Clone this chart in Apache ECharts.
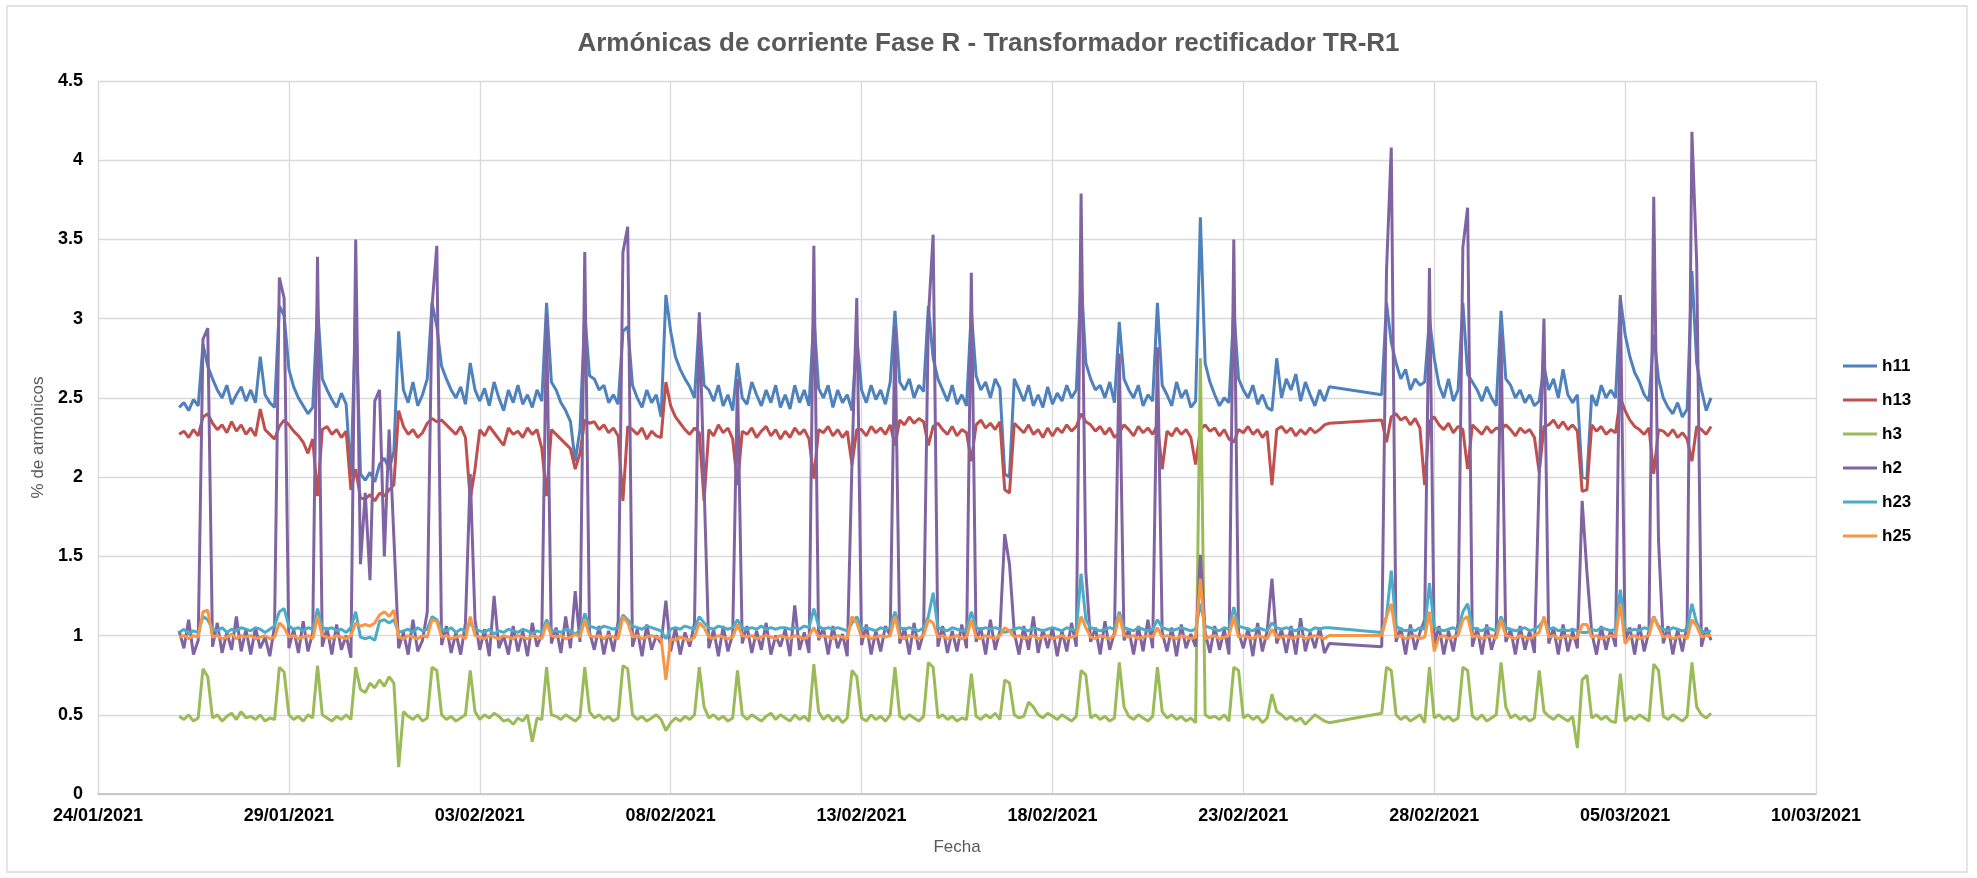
<!DOCTYPE html>
<html>
<head>
<meta charset="utf-8">
<title>Armónicas de corriente Fase R - TR-R1</title>
<script src="https://cdn.jsdelivr.net/npm/echarts/dist/echarts.min.js"></script>
<style>
  html, body { margin: 0; padding: 0; background: #fff; }
  #chart { width: 1977px; height: 878px; }
</style>
</head>
<body>
<div id="chart"></div>
<script>
// readings every 3 h (00,03,...,21), one row per day, null = no reading
const days = [
  '2021-01-26', '2021-01-27', '2021-01-28', '2021-01-29', '2021-01-30', '2021-01-31',
  '2021-02-01', '2021-02-02', '2021-02-03', '2021-02-04', '2021-02-05', '2021-02-06',
  '2021-02-07', '2021-02-08', '2021-02-09', '2021-02-10', '2021-02-11', '2021-02-12',
  '2021-02-13', '2021-02-14', '2021-02-15', '2021-02-16', '2021-02-17', '2021-02-18',
  '2021-02-19', '2021-02-20', '2021-02-21', '2021-02-22', '2021-02-23', '2021-02-24',
  '2021-02-25', '2021-02-26', '2021-02-27', '2021-02-28', '2021-03-01', '2021-03-02',
  '2021-03-03', '2021-03-04', '2021-03-05', '2021-03-06', '2021-03-07'
];
const hours = [0, 3, 6, 9, 12, 15, 18, 21];

const h11 = [
  [null, 2.44, 2.47, 2.42, 2.49, 2.45, 2.84, 2.70],
  [2.62, 2.55, 2.50, 2.58, 2.46, 2.52, 2.57, 2.48],
  [2.55, 2.47, 2.76, 2.52, 2.47, 2.44, 3.08, 3.02],
  [2.68, 2.57, 2.50, 2.45, 2.40, 2.44, 3.08, 2.62],
  [2.55, 2.49, 2.44, 2.53, 2.46, 2.00, 3.05, 2.02],
  [1.98, 2.03, 1.97, 2.08, 2.12, 2.05, 2.16, 2.92],
  [2.55, 2.47, 2.60, 2.45, 2.52, 2.62, 3.10, 2.95],
  [2.70, 2.62, 2.55, 2.50, 2.57, 2.46, 2.72, 2.55],
  [2.48, 2.56, 2.45, 2.60, 2.50, 2.42, 2.55, 2.47],
  [2.58, 2.46, 2.52, 2.44, 2.55, 2.48, 3.10, 2.60],
  [2.55, 2.47, 2.42, 2.35, 2.10, 2.30, 3.03, 2.64],
  [2.62, 2.55, 2.58, 2.47, 2.52, 2.46, 2.92, 2.95],
  [2.58, 2.50, 2.44, 2.55, 2.47, 2.52, 2.38, 3.15],
  [2.92, 2.76, 2.68, 2.62, 2.57, 2.50, 3.00, 2.58],
  [2.55, 2.48, 2.58, 2.45, 2.52, 2.42, 2.72, 2.50],
  [2.46, 2.60, 2.52, 2.45, 2.55, 2.47, 2.58, 2.44],
  [2.52, 2.43, 2.58, 2.47, 2.55, 2.45, 3.02, 2.56],
  [2.50, 2.58, 2.44, 2.55, 2.47, 2.52, 2.42, 2.89],
  [2.55, 2.47, 2.58, 2.49, 2.55, 2.46, 2.60, 3.05],
  [2.60, 2.55, 2.62, 2.50, 2.58, 2.54, 3.08, 2.75],
  [2.62, 2.55, 2.48, 2.58, 2.46, 2.52, 2.45, 3.05],
  [2.64, 2.55, 2.60, 2.50, 2.62, 2.56, 2.02, 2.00],
  [2.62, 2.55, 2.48, 2.58, 2.45, 2.52, 2.44, 2.57],
  [2.46, 2.53, 2.48, 2.58, 2.50, 2.55, 3.26, 2.72],
  [2.62, 2.55, 2.58, 2.50, 2.60, 2.47, 2.98, 2.62],
  [2.55, 2.50, 2.58, 2.45, 2.52, 2.48, 3.10, 2.58],
  [2.52, 2.45, 2.60, 2.50, 2.55, 2.44, 2.48, 3.64],
  [2.72, 2.60, 2.52, 2.45, 2.50, 2.47, 3.06, 2.62],
  [2.55, 2.50, 2.58, 2.46, 2.52, 2.44, 2.42, 2.75],
  [2.50, 2.62, 2.55, 2.65, 2.48, 2.60, 2.52, 2.45],
  [2.55, 2.48, 2.57, null, null, null, null, null],
  [null, null, null, null, null, 2.52, 3.10, 2.85],
  [2.72, 2.62, 2.68, 2.55, 2.62, 2.58, 2.60, 3.00],
  [2.75, 2.58, 2.50, 2.62, 2.48, 2.55, 3.10, 2.65],
  [2.60, 2.55, 2.48, 2.57, 2.50, 2.45, 3.05, 2.62],
  [2.58, 2.50, 2.55, 2.47, 2.52, 2.45, 2.48, 2.70],
  [2.55, 2.62, 2.50, 2.68, 2.52, 2.47, 2.52, 2.00],
  [1.99, 2.52, 2.45, 2.58, 2.50, 2.55, 2.50, 3.13],
  [2.90, 2.76, 2.66, 2.60, 2.52, 2.48, 2.90, 2.62],
  [2.50, 2.44, 2.40, 2.47, 2.38, 2.43, 3.30, 2.72],
  [2.55, 2.42, 2.50, null, null, null, null, null]
];

const h13 = [
  [null, 2.27, 2.29, 2.25, 2.30, 2.26, 2.38, 2.40],
  [2.34, 2.30, 2.33, 2.28, 2.35, 2.29, 2.33, 2.27],
  [2.31, 2.26, 2.43, 2.30, 2.27, 2.24, 2.32, 2.36],
  [2.33, 2.29, 2.26, 2.22, 2.15, 2.24, 1.88, 2.30],
  [2.32, 2.27, 2.30, 2.25, 2.29, 1.92, 2.05, 1.87],
  [1.86, 1.89, 1.85, 1.90, 1.88, 1.92, 1.95, 2.42],
  [2.32, 2.27, 2.30, 2.25, 2.28, 2.34, 2.37, 2.35],
  [2.36, 2.33, 2.30, 2.27, 2.32, 2.25, 1.86, 2.05],
  [2.30, 2.26, 2.32, 2.28, 2.24, 2.20, 2.31, 2.27],
  [2.29, 2.25, 2.31, 2.27, 2.30, 2.18, 1.88, 2.30],
  [2.27, 2.24, 2.21, 2.18, 2.05, 2.15, 2.36, 2.34],
  [2.35, 2.30, 2.33, 2.28, 2.31, 2.26, 1.85, 2.32],
  [2.30, 2.27, 2.31, 2.24, 2.29, 2.26, 2.25, 2.60],
  [2.45, 2.38, 2.34, 2.30, 2.27, 2.31, 2.28, 1.85],
  [2.30, 2.26, 2.33, 2.28, 2.31, 2.24, 1.95, 2.29],
  [2.27, 2.31, 2.25, 2.29, 2.32, 2.26, 2.30, 2.24],
  [2.29, 2.25, 2.31, 2.27, 2.30, 2.24, 1.99, 2.30],
  [2.28, 2.32, 2.26, 2.30, 2.25, 2.29, 2.08, 2.30],
  [2.30, 2.26, 2.32, 2.28, 2.31, 2.27, 2.33, 2.20],
  [2.36, 2.33, 2.38, 2.34, 2.37, 2.35, 2.20, 2.32],
  [2.34, 2.30, 2.27, 2.32, 2.26, 2.30, 2.28, 2.10],
  [2.33, 2.36, 2.31, 2.34, 2.30, 2.35, 1.92, 1.90],
  [2.34, 2.31, 2.28, 2.33, 2.27, 2.30, 2.25, 2.31],
  [2.26, 2.31, 2.28, 2.33, 2.29, 2.32, 2.40, 2.35],
  [2.33, 2.29, 2.32, 2.27, 2.31, 2.25, 2.28, 2.33],
  [2.30, 2.26, 2.32, 2.28, 2.31, 2.27, 2.33, 2.05],
  [2.29, 2.26, 2.31, 2.27, 2.30, 2.25, 2.08, 2.30],
  [2.33, 2.29, 2.31, 2.26, 2.30, 2.24, 2.22, 2.30],
  [2.28, 2.32, 2.27, 2.30, 2.25, 2.29, 1.95, 2.30],
  [2.32, 2.28, 2.31, 2.26, 2.30, 2.27, 2.31, 2.28],
  [2.30, 2.33, 2.34, null, null, null, null, null],
  [null, null, null, null, null, 2.36, 2.22, 2.38],
  [2.40, 2.36, 2.38, 2.33, 2.37, 2.31, 1.95, 2.35],
  [2.38, 2.33, 2.30, 2.34, 2.28, 2.32, 2.30, 2.05],
  [2.33, 2.30, 2.27, 2.32, 2.28, 2.31, 2.30, 2.33],
  [2.30, 2.26, 2.31, 2.28, 2.30, 2.25, 2.03, 2.32],
  [2.33, 2.36, 2.31, 2.35, 2.30, 2.33, 2.29, 1.91],
  [1.92, 2.33, 2.29, 2.32, 2.27, 2.30, 2.28, 2.50],
  [2.42, 2.36, 2.32, 2.30, 2.27, 2.31, 2.02, 2.30],
  [2.29, 2.26, 2.30, 2.25, 2.28, 2.24, 2.10, 2.32],
  [2.30, 2.27, 2.32, null, null, null, null, null]
];

const h3 = [
  [null, 0.49, 0.47, 0.50, 0.46, 0.48, 0.79, 0.74],
  [0.48, 0.50, 0.46, 0.49, 0.51, 0.47, 0.52, 0.48],
  [0.49, 0.47, 0.50, 0.46, 0.48, 0.47, 0.80, 0.77],
  [0.50, 0.47, 0.49, 0.46, 0.50, 0.48, 0.81, 0.50],
  [0.48, 0.46, 0.49, 0.47, 0.50, 0.47, 0.80, 0.66],
  [0.64, 0.70, 0.67, 0.72, 0.68, 0.74, 0.70, 0.17],
  [0.52, 0.49, 0.47, 0.50, 0.46, 0.48, 0.80, 0.78],
  [0.50, 0.47, 0.49, 0.46, 0.48, 0.50, 0.78, 0.52],
  [0.47, 0.50, 0.48, 0.51, 0.49, 0.46, 0.47, 0.44],
  [0.48, 0.46, 0.50, 0.33, 0.48, 0.47, 0.80, 0.50],
  [0.49, 0.47, 0.50, 0.48, 0.46, 0.49, 0.80, 0.52],
  [0.48, 0.50, 0.47, 0.49, 0.46, 0.48, 0.81, 0.79],
  [0.50, 0.47, 0.49, 0.46, 0.48, 0.50, 0.47, 0.40],
  [0.45, 0.48, 0.46, 0.49, 0.47, 0.50, 0.80, 0.55],
  [0.48, 0.50, 0.47, 0.49, 0.46, 0.48, 0.78, 0.50],
  [0.47, 0.50, 0.48, 0.46, 0.49, 0.51, 0.47, 0.50],
  [0.48, 0.46, 0.50, 0.47, 0.49, 0.46, 0.82, 0.52],
  [0.47, 0.50, 0.46, 0.49, 0.45, 0.48, 0.78, 0.74],
  [0.48, 0.46, 0.50, 0.47, 0.49, 0.46, 0.50, 0.80],
  [0.49, 0.47, 0.50, 0.48, 0.46, 0.49, 0.83, 0.80],
  [0.48, 0.50, 0.47, 0.49, 0.46, 0.48, 0.47, 0.76],
  [0.49, 0.47, 0.50, 0.48, 0.51, 0.47, 0.72, 0.70],
  [0.50, 0.48, 0.49, 0.58, 0.55, 0.50, 0.48, 0.51],
  [0.49, 0.47, 0.50, 0.48, 0.46, 0.49, 0.78, 0.75],
  [0.48, 0.50, 0.47, 0.49, 0.46, 0.48, 0.83, 0.55],
  [0.49, 0.47, 0.50, 0.48, 0.46, 0.49, 0.80, 0.52],
  [0.48, 0.50, 0.47, 0.49, 0.46, 0.48, 0.45, 2.75],
  [0.50, 0.48, 0.49, 0.47, 0.50, 0.46, 0.80, 0.78],
  [0.48, 0.50, 0.47, 0.49, 0.45, 0.48, 0.63, 0.52],
  [0.50, 0.47, 0.49, 0.46, 0.48, 0.44, 0.47, 0.50],
  [0.48, 0.46, 0.45, null, null, null, null, null],
  [null, null, null, null, null, 0.51, 0.80, 0.78],
  [0.50, 0.47, 0.49, 0.46, 0.48, 0.50, 0.45, 0.80],
  [0.48, 0.50, 0.47, 0.49, 0.46, 0.48, 0.80, 0.78],
  [0.49, 0.47, 0.50, 0.46, 0.48, 0.50, 0.83, 0.55],
  [0.48, 0.50, 0.47, 0.49, 0.46, 0.48, 0.78, 0.52],
  [0.49, 0.47, 0.50, 0.48, 0.46, 0.49, 0.29, 0.72],
  [0.75, 0.48, 0.50, 0.47, 0.49, 0.46, 0.45, 0.76],
  [0.46, 0.49, 0.47, 0.50, 0.48, 0.46, 0.82, 0.78],
  [0.49, 0.47, 0.50, 0.48, 0.46, 0.49, 0.83, 0.55],
  [0.50, 0.48, 0.51, null, null, null, null, null]
];

const h2 = [
  [null, 1.03, 0.92, 1.10, 0.88, 0.97, 2.87, 2.94],
  [0.93, 1.08, 0.89, 1.02, 0.91, 1.12, 0.90, 1.04],
  [0.88, 1.05, 0.92, 0.99, 0.87, 1.06, 3.26, 3.13],
  [0.92, 1.04, 0.89, 1.09, 0.90, 1.02, 3.39, 0.93],
  [1.05, 0.88, 1.07, 0.91, 1.00, 0.86, 3.50, 1.45],
  [1.90, 1.35, 2.48, 2.55, 1.50, 2.30, 1.62, 0.92],
  [1.02, 0.88, 1.10, 0.90, 0.97, 1.15, 3.08, 3.46],
  [0.94, 1.06, 0.89, 1.02, 0.88, 1.08, 2.02, 1.10],
  [0.91, 1.04, 0.87, 1.25, 0.92, 1.00, 0.88, 1.06],
  [0.90, 1.03, 0.87, 1.08, 0.93, 1.01, 3.03, 0.95],
  [1.05, 0.89, 1.12, 0.92, 1.28, 0.96, 3.42, 1.02],
  [0.91, 1.06, 0.88, 1.03, 0.90, 1.09, 3.42, 3.58],
  [0.93, 1.04, 0.87, 1.07, 0.91, 1.00, 0.95, 1.22],
  [0.90, 1.05, 0.88, 1.02, 0.93, 1.08, 3.04, 1.95],
  [0.92, 1.04, 0.87, 1.06, 0.90, 1.01, 2.62, 0.95],
  [1.06, 0.89, 1.03, 0.91, 1.08, 0.88, 1.00, 0.93],
  [1.04, 0.87, 1.19, 0.91, 1.02, 0.89, 3.46, 0.97],
  [1.05, 0.88, 1.06, 0.92, 1.01, 0.87, 2.10, 3.13],
  [0.94, 1.07, 0.88, 1.03, 0.90, 1.06, 1.00, 2.95],
  [0.95, 1.05, 0.88, 1.08, 0.91, 1.02, 3.00, 3.53],
  [0.93, 1.06, 0.89, 1.03, 0.90, 1.07, 0.92, 3.29],
  [0.96, 1.05, 0.88, 1.10, 0.91, 1.03, 1.64, 1.45],
  [1.02, 0.88, 1.06, 0.91, 1.12, 0.89, 1.04, 0.92],
  [1.05, 0.87, 1.03, 0.90, 1.08, 0.93, 3.79, 1.40],
  [0.96, 1.05, 0.88, 1.09, 0.91, 1.02, 2.78, 0.97],
  [1.04, 0.88, 1.06, 0.90, 1.10, 0.92, 2.82, 1.02],
  [0.90, 1.05, 0.87, 1.07, 0.92, 1.01, 0.93, 1.51],
  [1.02, 0.89, 1.06, 0.91, 1.04, 0.88, 3.50, 1.02],
  [0.92, 1.05, 0.87, 1.08, 0.90, 1.03, 1.36, 0.95],
  [1.04, 0.89, 1.06, 0.88, 1.11, 0.90, 1.02, 0.92],
  [1.05, 0.89, 0.95, null, null, null, null, null],
  [null, null, null, null, null, 0.93, 3.30, 4.08],
  [0.96, 1.05, 0.88, 1.07, 0.91, 1.02, 1.10, 3.32],
  [0.94, 1.06, 0.88, 1.03, 0.90, 1.08, 3.45, 3.70],
  [0.93, 1.05, 0.88, 1.07, 0.91, 1.02, 2.90, 0.96],
  [1.04, 0.88, 1.06, 0.91, 1.03, 0.89, 2.00, 3.00],
  [0.95, 1.05, 0.88, 1.07, 0.90, 1.03, 0.92, 1.85],
  [1.40, 1.02, 0.88, 1.06, 0.91, 1.04, 0.93, 3.15],
  [0.97, 1.05, 0.88, 1.07, 0.90, 1.03, 3.77, 1.60],
  [0.95, 1.06, 0.88, 1.04, 0.90, 1.07, 4.18, 3.35],
  [0.93, 1.05, 0.97, null, null, null, null, null]
];

const h23 = [
  [null, 1.02, 1.04, 1.01, 1.03, 1.02, 1.12, 1.10],
  [1.04, 1.03, 1.05, 1.02, 1.04, 1.03, 1.05, 1.04],
  [1.03, 1.05, 1.04, 1.02, 1.04, 1.06, 1.15, 1.17],
  [1.06, 1.04, 1.05, 1.03, 1.05, 1.04, 1.17, 1.05],
  [1.04, 1.05, 1.03, 1.04, 1.02, 1.05, 1.15, 0.99],
  [0.98, 0.99, 0.97, 1.09, 1.10, 1.08, 1.10, 1.02],
  [1.03, 1.04, 1.02, 1.05, 1.03, 1.04, 1.12, 1.10],
  [1.04, 1.03, 1.05, 1.02, 1.04, 1.03, 1.08, 1.04],
  [1.03, 1.02, 1.04, 1.01, 1.03, 1.02, 1.04, 1.03],
  [1.02, 1.04, 1.03, 1.01, 1.03, 1.02, 1.10, 1.03],
  [1.03, 1.02, 1.04, 1.03, 1.01, 1.03, 1.14, 1.06],
  [1.05, 1.04, 1.06, 1.05, 1.04, 1.05, 1.13, 1.10],
  [1.06, 1.05, 1.04, 1.06, 1.05, 1.04, 1.03, 0.98],
  [1.04, 1.05, 1.04, 1.06, 1.05, 1.04, 1.12, 1.08],
  [1.05, 1.04, 1.06, 1.05, 1.04, 1.05, 1.10, 1.05],
  [1.04, 1.05, 1.04, 1.06, 1.04, 1.05, 1.04, 1.05],
  [1.05, 1.04, 1.05, 1.04, 1.06, 1.05, 1.17, 1.06],
  [1.04, 1.05, 1.04, 1.05, 1.04, 1.03, 1.08, 1.12],
  [1.04, 1.05, 1.04, 1.03, 1.05, 1.04, 1.05, 1.15],
  [1.05, 1.04, 1.05, 1.04, 1.03, 1.05, 1.12, 1.27],
  [1.05, 1.04, 1.03, 1.05, 1.04, 1.03, 1.04, 1.15],
  [1.05, 1.04, 1.05, 1.04, 1.05, 1.04, 1.02, 1.03],
  [1.04, 1.05, 1.04, 1.03, 1.05, 1.04, 1.03, 1.04],
  [1.05, 1.04, 1.03, 1.05, 1.04, 1.03, 1.39, 1.10],
  [1.05, 1.04, 1.03, 1.04, 1.05, 1.04, 1.15, 1.05],
  [1.04, 1.03, 1.05, 1.04, 1.03, 1.04, 1.10, 1.05],
  [1.04, 1.03, 1.04, 1.05, 1.04, 1.03, 1.04, 1.20],
  [1.06, 1.05, 1.04, 1.03, 1.05, 1.04, 1.18, 1.06],
  [1.05, 1.04, 1.03, 1.05, 1.04, 1.03, 1.08, 1.05],
  [1.04, 1.05, 1.04, 1.03, 1.05, 1.04, 1.03, 1.05],
  [1.04, 1.05, 1.05, null, null, null, null, null],
  [null, null, null, null, null, 1.02, 1.12, 1.41],
  [1.06, 1.04, 1.03, 1.04, 1.03, 1.05, 1.04, 1.33],
  [1.05, 1.04, 1.03, 1.04, 1.05, 1.03, 1.15, 1.20],
  [1.05, 1.04, 1.03, 1.05, 1.04, 1.03, 1.12, 1.05],
  [1.04, 1.03, 1.04, 1.05, 1.03, 1.04, 1.06, 1.10],
  [1.04, 1.05, 1.03, 1.04, 1.03, 1.04, 1.03, 1.02],
  [1.02, 1.04, 1.03, 1.05, 1.04, 1.03, 1.04, 1.29],
  [1.04, 1.03, 1.04, 1.03, 1.05, 1.04, 1.12, 1.06],
  [1.04, 1.03, 1.05, 1.04, 1.03, 1.04, 1.20, 1.08],
  [1.03, 1.02, 1.03, null, null, null, null, null]
];

const h25 = [
  [null, 0.99, 1.00, 0.98, 1.00, 0.99, 1.15, 1.16],
  [0.99, 1.00, 0.98, 0.99, 1.01, 0.98, 1.00, 0.99],
  [1.00, 0.98, 0.99, 1.00, 0.98, 0.99, 1.08, 1.05],
  [0.99, 1.00, 0.98, 0.99, 1.00, 0.98, 1.12, 1.00],
  [0.99, 0.98, 1.00, 0.99, 0.98, 1.00, 1.08, 1.06],
  [1.07, 1.06, 1.08, 1.13, 1.15, 1.12, 1.16, 0.99],
  [0.98, 1.00, 0.99, 0.98, 1.00, 0.99, 1.10, 1.09],
  [0.99, 1.00, 0.98, 0.99, 1.00, 0.98, 1.12, 1.00],
  [0.99, 0.98, 1.00, 0.99, 0.98, 1.00, 0.99, 0.98],
  [1.00, 0.99, 0.98, 1.00, 0.99, 0.98, 1.08, 1.00],
  [0.99, 1.00, 0.98, 0.99, 1.01, 0.99, 1.10, 1.00],
  [0.99, 1.00, 0.98, 1.00, 0.99, 0.98, 1.12, 1.08],
  [0.99, 1.00, 0.98, 0.99, 1.00, 0.99, 0.98, 0.72],
  [0.98, 0.97, 0.99, 0.98, 0.97, 0.99, 1.08, 1.05],
  [0.99, 0.98, 1.00, 0.99, 0.98, 0.99, 1.07, 1.00],
  [0.99, 1.00, 0.98, 0.99, 1.00, 0.99, 0.98, 1.00],
  [0.99, 0.98, 1.00, 0.99, 0.98, 1.00, 1.05, 0.99],
  [1.00, 0.99, 0.98, 1.00, 0.99, 0.98, 1.12, 1.08],
  [0.99, 1.00, 0.98, 0.99, 1.00, 0.99, 1.00, 1.12],
  [0.99, 0.98, 1.00, 0.99, 0.98, 1.00, 1.10, 1.08],
  [0.99, 1.00, 0.98, 0.99, 1.00, 0.98, 0.99, 1.10],
  [0.99, 0.98, 1.00, 0.99, 0.98, 1.00, 1.05, 1.03],
  [0.99, 1.00, 0.98, 0.99, 1.00, 0.98, 0.99, 1.00],
  [0.98, 0.99, 1.00, 0.98, 0.99, 1.00, 1.12, 1.05],
  [0.99, 0.98, 1.00, 0.99, 0.98, 1.00, 1.13, 1.00],
  [0.99, 1.00, 0.98, 0.99, 1.00, 0.99, 1.05, 0.99],
  [1.00, 0.99, 0.98, 1.00, 0.99, 0.98, 0.99, 1.36],
  [0.98, 0.99, 1.00, 0.98, 0.99, 1.00, 1.12, 0.99],
  [1.00, 0.99, 0.98, 1.00, 0.99, 0.98, 1.04, 0.99],
  [0.99, 1.00, 0.98, 0.99, 1.00, 0.98, 0.99, 1.00],
  [0.99, 0.98, 1.00, null, null, null, null, null],
  [null, null, null, null, null, 1.00, 1.12, 1.20],
  [0.99, 1.00, 0.98, 0.99, 1.00, 0.98, 0.99, 1.15],
  [0.90, 0.99, 1.00, 0.98, 0.99, 1.00, 1.10, 1.12],
  [0.99, 1.00, 0.98, 0.99, 1.00, 0.98, 1.10, 1.00],
  [0.99, 0.98, 1.00, 0.99, 0.98, 1.00, 1.02, 1.12],
  [0.99, 1.00, 0.98, 0.99, 1.00, 0.98, 0.99, 1.07],
  [1.07, 0.99, 1.00, 0.98, 0.99, 1.00, 0.99, 1.20],
  [0.95, 0.99, 1.00, 0.98, 0.99, 1.00, 1.12, 1.05],
  [0.99, 1.00, 0.98, 0.99, 1.00, 0.98, 1.10, 1.06],
  [0.99, 1.00, 1.00, null, null, null, null, null]
];

const seriesNames = ['h11', 'h13', 'h3', 'h2', 'h23', 'h25'];
const seriesRows = [h11, h13, h3, h2, h23, h25];
const colors = ['#4F81BD', '#C0504D', '#9BBB59', '#8064A2', '#4BACC6', '#F79646'];

// x axis runs in days counted from 24/01/2021
const origin = Date.UTC(2021, 0, 24);
const DAY = 86400000;

function toPoints(rows) {
  const out = [];
  rows.forEach(function (row, i) {
    const p = days[i].split('-');
    const base = (Date.UTC(+p[0], +p[1] - 1, +p[2]) - origin) / DAY;
    row.forEach(function (v, j) {
      if (v !== null && v !== undefined) out.push([base + hours[j] / 24, v]);
    });
  });
  return out;
}

function pad(n) { return n < 10 ? '0' + n : '' + n; }
function dateLabel(v) {
  const d = new Date(origin + Math.round(v * DAY));
  return pad(d.getUTCDate()) + '/' + pad(d.getUTCMonth() + 1) + '/' + d.getUTCFullYear();
}

const font = "'Liberation Sans', Arial, sans-serif";

const chart = echarts.init(document.getElementById('chart'), null, { renderer: 'canvas' });

const option = {
  backgroundColor: '#fff',
  animation: false,
  color: colors,
  title: {
    text: 'Armónicas de corriente Fase R - Transformador rectificador TR-R1',
    left: 'center',
    top: 26,
    textStyle: {
      fontFamily: font,
      fontSize: 26,
      fontWeight: 'bold',
      color: '#595959'
    }
  },
  legend: {
    orient: 'vertical',
    left: 1838,
    top: 351,
    icon: 'rect',
    itemWidth: 34,
    itemHeight: 3,
    itemGap: 14,
    data: seriesNames,
    textStyle: {
      fontFamily: font,
      fontSize: 17,
      fontWeight: 'bold',
      color: '#000',
      lineHeight: 20
    }
  },
  grid: { left: 98, right: 161, top: 81, bottom: 84 },
  xAxis: {
    type: 'value',
    min: 0,
    max: 45,
    interval: 5,
    name: 'Fecha',
    nameLocation: 'middle',
    nameGap: 45,
    nameTextStyle: { fontFamily: font, fontSize: 17, color: '#595959' },
    axisLine: { show: true, lineStyle: { color: '#BFBFBF', width: 1.5 } },
    axisTick: { show: false },
    splitLine: { show: true, lineStyle: { color: '#D9D9D9', width: 1.3 } },
    axisLabel: {
      formatter: dateLabel,
      fontFamily: font,
      fontSize: 18,
      fontWeight: 'bold',
      color: '#000',
      margin: 13
    }
  },
  yAxis: {
    type: 'value',
    min: 0,
    max: 4.5,
    interval: 0.5,
    name: '% de armónicos',
    nameLocation: 'middle',
    nameGap: 38,
    nameRotate: 90,
    nameTextStyle: { fontFamily: font, fontSize: 17, color: '#595959' },
    axisLine: { show: false },
    axisTick: { show: false },
    splitLine: { show: true, lineStyle: { color: '#D9D9D9', width: 1.3 } },
    axisLabel: {
      fontFamily: font,
      fontSize: 18,
      fontWeight: 'bold',
      color: '#000',
      margin: 15
    }
  },
  graphic: [{
    type: 'rect',
    silent: true,
    shape: { x: 7, y: 6, width: 1960, height: 866 },
    style: { fill: 'none', stroke: '#D9D9D9', lineWidth: 1.3 }
  }],
  series: seriesNames.map(function (name, k) {
    return {
      name: name,
      type: 'line',
      symbol: 'none',
      sampling: null,
      data: toPoints(seriesRows[k]),
      lineStyle: { width: 3, color: colors[k] },
      itemStyle: { color: colors[k] }
    };
  })
};

chart.setOption(option);
</script>
</body>
</html>
